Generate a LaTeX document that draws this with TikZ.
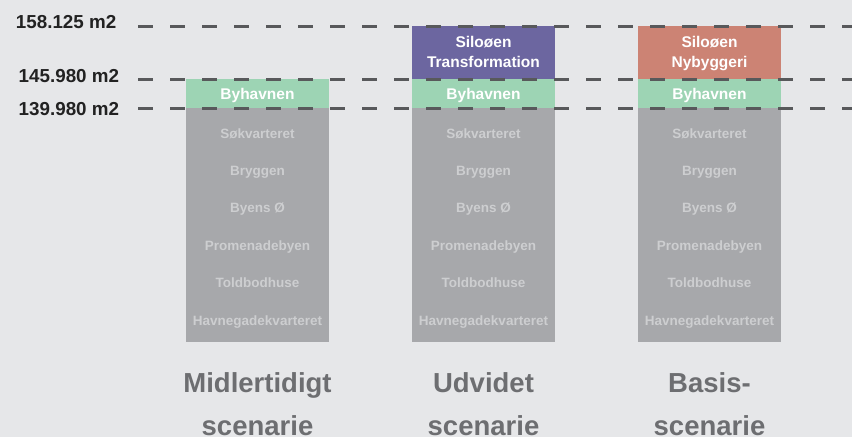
\documentclass[tikz,border=0pt]{standalone}
\usepackage{fontspec}
\setmainfont{Liberation Sans}
\definecolor{bg}{HTML}{E6E7E9}
\definecolor{barg}{HTML}{A7A8AB}
\definecolor{bargreen}{HTML}{9DD4B4}
\definecolor{barpurple}{HTML}{6C66A0}
\definecolor{barsalmon}{HTML}{CC8374}
\definecolor{dashc}{HTML}{58595B}
\definecolor{lbltxt}{HTML}{CDCED0}
\definecolor{axtxt}{HTML}{222222}
\definecolor{scentxt}{HTML}{6D6E71}
\tikzset{
  bar/.style={draw=none, inner sep=0pt, outer sep=0pt, minimum width=143pt},
  guide/.style={dashc, line width=3pt, dash pattern=on 15pt off 17pt},
  axlbl/.style={anchor=base east, inner sep=0pt, text=axtxt, font=\bfseries\fontsize{18.8}{22}\selectfont},
  zone/.style={anchor=base, inner sep=0pt, text=lbltxt, font=\bfseries\fontsize{13.5}{16}\selectfont},
  toplbl/.style={anchor=base, inner sep=0pt, text=white, font=\bfseries\fontsize{15.5}{18}\selectfont},
  scen/.style={anchor=base, inner sep=0pt, text=scentxt, font=\bfseries\fontsize{27.5}{32}\selectfont}
}
\begin{document}
\begin{tikzpicture}[x=1pt,y=-1pt]
\fill[bg] (0,0) rectangle (852,437);
\useasboundingbox (0,0) rectangle (852,437);
% bars
\foreach \n/\cx in {1/257.5,2/483.5,3/709.5}{
  \node[bar, fill=barg, minimum height=234pt] (g\n) at (\cx,225) {};
  \node[bar, fill=bargreen, minimum height=29pt] (h\n) at (\cx,93.5) {};
}
\node[bar, fill=barpurple, minimum height=53pt] (s2) at (483.5,52.5) {};
\node[bar, fill=barsalmon, minimum height=53pt] (s3) at (709.5,52.5) {};
% guide lines
\coordinate (l1a) at (138,26);  \coordinate (l1b) at (852,26);
\coordinate (l2a) at (138,79);  \coordinate (l2b) at (852,79);
\coordinate (l3a) at (138,108); \coordinate (l3b) at (852,108);
\draw[guide] (l1a) -- (l1b);
\draw[guide] (l2a) -- (l2b);
\draw[guide] (l3a) -- (l3b);
% axis labels
\node[axlbl] (a1) at (116.5,28.3) {158.125 m2};
\node[axlbl] (a2) at (119.3,82.7) {145.980 m2};
\node[axlbl] (a3) at (119.3,115) {139.980 m2};
% zone labels
\foreach \n/\cx in {1/257.5,2/483.5,3/709.5}{
  \node[toplbl] (by\n) at (\cx,99) {Byhavnen};
  \node[zone] (z1\n) at (\cx,138.7) {Søkvarteret};
  \node[zone] (z2\n) at (\cx,175.7) {Bryggen};
  \node[zone] (z3\n) at (\cx,212.7) {Byens Ø};
  \node[zone] (z4\n) at (\cx,250.7) {Promenadebyen};
  \node[zone] (z5\n) at (\cx,287.7) {Toldbodhuse};
  \node[zone] (z6\n) at (\cx,325) {Havnegadekvarteret};
}
\node[toplbl] (t2a) at (483.5,47) {Siloøen};
\node[toplbl] (t2b) at (483.5,67) {Transformation};
\node[toplbl] (t3a) at (709.5,47) {Siloøen};
\node[toplbl] (t3b) at (709.5,67) {Nybyggeri};
% scenario labels
\node[scen] (c1a) at (257.5,392) {Midlertidigt};
\node[scen] (c1b) at (257.5,435.5) {scenarie};
\node[scen] (c2a) at (483.5,392) {Udvidet};
\node[scen] (c2b) at (483.5,435.5) {scenarie};
\node[scen] (c3a) at (709.5,392) {Basis-};
\node[scen] (c3b) at (709.5,435.5) {scenarie};
\end{tikzpicture}
\end{document}
